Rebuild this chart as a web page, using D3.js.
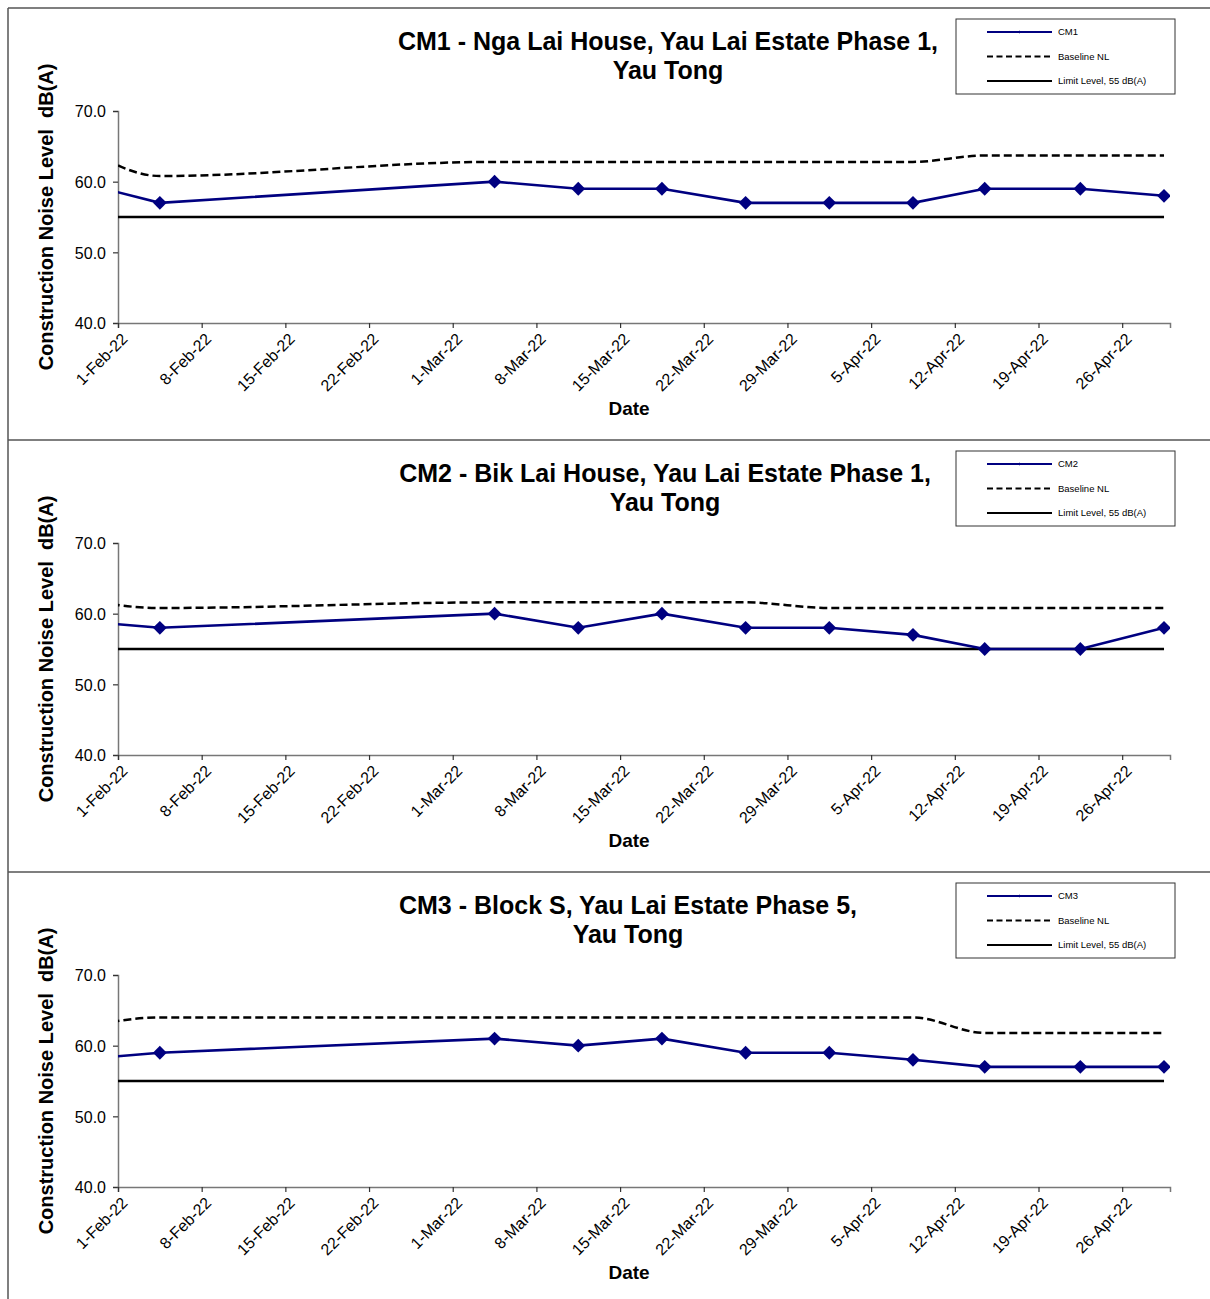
<!DOCTYPE html>
<html>
<head>
<meta charset="utf-8">
<script src="https://cdn.jsdelivr.net/npm/d3@7"></script>
<style>
  body { margin: 0; background: #fff; }
  text { font-family: Arial, "Liberation Sans", sans-serif; fill: #000; white-space: pre; }
</style>
</head>
<body>
<svg id="chart"></svg>
<script>
"use strict";

/*
*  DATA
*/

// first date is the reading before the chart window (line is clipped at 1-Feb)
var dates = ["28-Jan-22", "4-Feb-22", "4-Mar-22", "11-Mar-22", "18-Mar-22", "25-Mar-22",
             "1-Apr-22", "8-Apr-22", "14-Apr-22", "22-Apr-22", "29-Apr-22"];

var cm1Noise    = [60, 57, 60, 59, 59, 57, 57, 57, 59, 59, 58];
var cm1Baseline = [65.6, 60.8, 62.8, 62.8, 62.8, 62.8, 62.8, 62.8, 63.7, 63.7, 63.7];

var cm2Noise    = [59, 58, 60, 58, 60, 58, 58, 57, 55, 55, 58];
var cm2Baseline = [62.1, 60.8, 61.6, 61.6, 61.6, 61.6, 60.8, 60.8, 60.8, 60.8, 60.8];

var cm3Noise    = [58, 59, 61, 60, 61, 59, 59, 58, 57, 57, 57];
var cm3Baseline = [62.4, 64, 64, 64, 64, 64, 64, 64, 61.8, 61.8, 61.8];

var limitLevel = 55;

var stations = ["CM1", "CM2", "CM3"];
var titleLine1 = ["CM1 - Nga Lai House, Yau Lai Estate Phase 1,",
                  "CM2 - Bik Lai House, Yau Lai Estate Phase 1,",
                  "CM3 - Block S, Yau Lai Estate Phase 5,"];
var titleLine2 = ["Yau Tong", "Yau Tong", "Yau Tong"];
var legendLabels = ["Baseline NL", "Limit Level, 55 dB(A)"];

var xDomain = ["1-Feb-22", "30-Apr-22"];
var xTickLabels = ["1-Feb-22", "8-Feb-22", "15-Feb-22", "22-Feb-22", "1-Mar-22", "8-Mar-22",
                   "15-Mar-22", "22-Mar-22", "29-Mar-22", "5-Apr-22", "12-Apr-22",
                   "19-Apr-22", "26-Apr-22"];
var yDomain = [40, 70];
var yTicks = [40, 50, 60, 70];

var yLabel = "Construction Noise Level  dB(A)";
var xLabel = "Date";

/*
*  RUN
*/

var width = 1210,
    height = 1299,
    panelH = 432;

var parse = d3.utcParse("%d-%b-%y");
var svg = d3.select('#chart').attr('width', width).attr('height', height);

var noiseSeries = [cm1Noise, cm2Noise, cm3Noise];
var baseSeries = [cm1Baseline, cm2Baseline, cm3Baseline];
var titleCx = [668, 665, 628];

stations.forEach(function (st, i) {
  drawPanel(i, 8 + i * panelH);
});

/*
*  HELPERS
*/

function drawPanel(i, oy) {
  var left = 118, right = 1170, top = oy + 103, bottom = oy + 315;

  // PANEL FRAME
  svg.append('line').attr('x1', 8).attr('x2', 8).attr('y1', oy).attr('y2', oy + panelH)
    .attr('stroke', '#555').attr('stroke-width', 1.5);
  svg.append('line').attr('x1', 8).attr('x2', width).attr('y1', oy).attr('y2', oy)
    .attr('stroke', '#555').attr('stroke-width', 1.5);

  var x = d3.scaleUtc().domain(xDomain.map(parse)).range([left, right]);
  var y = d3.scaleLinear().domain(yDomain).range([bottom, top]);

  // points sit in the middle of their day
  function px(d) { return x(d3.utcHour.offset(parse(d), 12)); }

  var g = svg.append('g');

  // CLIP
  var clipId = 'clip' + i;
  svg.append('clipPath').attr('id', clipId).append('rect')
    .attr('x', left).attr('y', top - 20).attr('width', right - left).attr('height', bottom - top + 40);

  // Y AXIS
  var yAxis = d3.axisLeft(y).tickValues(yTicks).tickSize(5).tickFormat(d3.format('.1f'));
  var ya = g.append('g').attr('transform', 'translate(' + left + ',0)').call(yAxis);
  ya.select('.domain').attr('stroke', '#777').attr('stroke-width', 1.5);
  ya.selectAll('.tick line').attr('stroke', '#333').attr('stroke-width', 1.2);
  ya.selectAll('.tick text').attr('font-size', 16).attr('x', -12).attr('dy', '0.36em')
    .style('font-family', 'Arial, "Liberation Sans", sans-serif').attr('fill', '#000');

  // X AXIS
  var xAxis = d3.axisBottom(x).tickValues(xTickLabels.map(parse)).tickSize(5)
    .tickFormat(function (d, k) { return xTickLabels[k]; });
  var xa = g.append('g').attr('transform', 'translate(0,' + bottom + ')').call(xAxis);
  xa.select('.domain').attr('stroke', '#777').attr('stroke-width', 1.5);
  xa.selectAll('.tick line').attr('stroke', '#333').attr('stroke-width', 1.2);
  xa.selectAll('.tick text').attr('font-size', 16).attr('text-anchor', 'end')
    .attr('y', 0).attr('dy', 0)
    .attr('transform', 'translate(10,17) rotate(-45)')
    .style('font-family', 'Arial, "Liberation Sans", sans-serif').attr('fill', '#000');

  // AXIS TITLES
  g.append('text').attr('transform', 'translate(53,' + (oy + 209) + ') rotate(-90)')
    .attr('text-anchor', 'middle').attr('font-size', 20).attr('font-weight', 'bold').text(yLabel);
  g.append('text').attr('x', 629).attr('y', oy + 407)
    .attr('text-anchor', 'middle').attr('font-size', 19).attr('font-weight', 'bold').text(xLabel);

  // TITLE
  g.append('text').attr('x', titleCx[i]).attr('y', oy + 42).attr('text-anchor', 'middle')
    .attr('font-size', 25).attr('font-weight', 'bold').text(titleLine1[i]);
  g.append('text').attr('x', titleCx[i]).attr('y', oy + 71).attr('text-anchor', 'middle')
    .attr('font-size', 25).attr('font-weight', 'bold').text(titleLine2[i]);

  // SERIES
  var plot = g.append('g').attr('clip-path', 'url(#' + clipId + ')');

  var limitLine = d3.line().x(function (d) { return px(d); }).y(function () { return y(limitLevel); });
  plot.append('path').datum(dates).attr('d', limitLine)
    .attr('fill', 'none').attr('stroke', '#000').attr('stroke-width', 2.5);

  var baseLine = d3.line().curve(d3.curveMonotoneX)
    .x(function (d, k) { return px(dates[k]); }).y(function (d) { return y(d); });
  plot.append('path').datum(baseSeries[i]).attr('d', baseLine)
    .attr('fill', 'none').attr('stroke', '#000').attr('stroke-width', 2.5)
    .attr('stroke-dasharray', '8,4');

  var noiseLine = d3.line()
    .x(function (d, k) { return px(dates[k]); }).y(function (d) { return y(d); });
  plot.append('path').datum(noiseSeries[i]).attr('d', noiseLine)
    .attr('fill', 'none').attr('stroke', '#000080').attr('stroke-width', 2.6);

  var diamond = d3.symbol().type(d3.symbolSquare).size(95);
  plot.selectAll('.pt').data(noiseSeries[i]).enter().append('path')
    .attr('class', 'pt')
    .attr('d', diamond)
    .attr('transform', function (d, k) {
      return 'translate(' + px(dates[k]) + ',' + y(d) + ') rotate(45)';
    })
    .attr('fill', '#000080');

  // LEGEND
  var lx = 956, ly = oy + 11;
  var lg = g.append('g');
  lg.append('rect').attr('x', lx).attr('y', ly).attr('width', 219).attr('height', 75)
    .attr('fill', '#fff').attr('stroke', '#333').attr('stroke-width', 1);
  var rows = [stations[i]].concat(legendLabels);
  var styles = [
    { stroke: '#000080', dash: null },
    { stroke: '#000', dash: '6,3.5' },
    { stroke: '#000', dash: null }
  ];
  rows.forEach(function (label, r) {
    var ry = ly + 13 + r * 24.5;
    lg.append('line').attr('x1', lx + 31).attr('x2', lx + 96).attr('y1', ry).attr('y2', ry)
      .attr('stroke', styles[r].stroke).attr('stroke-width', 2.2)
      .attr('stroke-dasharray', styles[r].dash);
    if (r === 0) {
      lg.append('path').attr('d', d3.symbol().type(d3.symbolSquare).size(5))
        .attr('transform', 'translate(' + (lx + 63.5) + ',' + ry + ') rotate(45)')
        .attr('fill', '#000080');
    }
    lg.append('text').attr('x', lx + 102).attr('y', ry).attr('dy', '0.35em')
      .attr('font-size', 9.5).text(label);
  });
}
</script>
</body>
</html>
